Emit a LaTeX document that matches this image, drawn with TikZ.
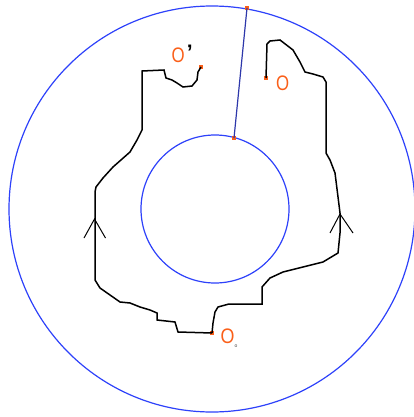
\documentclass[tikz,border=0pt]{standalone}
\usepackage{fontspec}
\setmainfont{Liberation Sans}
\definecolor{ptorange}{RGB}{250,95,25}
\definecolor{cblue}{RGB}{45,65,250}
\definecolor{lblue}{RGB}{45,55,170}
\begin{document}
\begin{tikzpicture}[x=1pt,y=-1pt,
  dot/.style={rectangle,fill=ptorange,inner sep=0pt,minimum size=4.5pt},
  circ/.style={draw=cblue,line width=1.2pt},
  trail/.style={draw=black,line width=1.5pt,line join=miter},
  vtip/.style={draw=black,line width=1pt},
  lbl/.style={text=ptorange,font=\fontsize{21}{21}\selectfont,inner sep=0pt,anchor=west}]
\useasboundingbox (0,0) rectangle (414,417);
\coordinate (oc) at (212,209);
\coordinate (ic) at (215,209);
\draw[circ] (oc) circle[radius=203];
\draw[circ] (ic) circle[radius=74];
% radial segment
\node[dot,minimum size=4pt] (rt) at (247,8) {};
\node[dot,minimum size=4pt] (rb) at (234,138) {};
\draw[lblue,line width=1.2pt] (rt.center) -- (rb.center);
% points
\node[dot] (oprime) at (201,67) {};
\node[dot] (o) at (266,78) {};
\node[dot] (o0) at (212,333) {};
% path
\draw[trail] (oprime.center) -- (198,72) -- (197,80) -- (192,86) -- (183,87) -- (177,83) -- (172,80) -- (166,78) -- (164,70) -- (142,71) -- (142,130) -- (137,140) -- (130,152) -- (113,167) -- (103,178) -- (96,187) -- (95,192) -- (95,280) -- (100,288) -- (110,295) -- (120,302) -- (130,303) -- (140,307) -- (150,310) -- (157,313) -- (157,320) -- (175,322) -- (178,332) -- (o0.center);
\draw[trail] (o0.center) -- (213,323) -- (215,312) -- (218,307) -- (229,304) -- (262,304) -- (262,287) -- (270,278) -- (283,272) -- (303,267) -- (323,262) -- (338,253) -- (340,233) -- (340,213) -- (338,197) -- (335,173) -- (330,160) -- (326,153) -- (326,82) -- (323,77) -- (313,74) -- (305,72) -- (300,62) -- (293,50) -- (280,40) -- (270,41) -- (267,44) -- (o.center);
% arrowheads
\draw[vtip] (84,238) -- (94.5,219) -- (105.5,238);
\draw[vtip] (330,233) -- (340,214) -- (353,233);
% labels
\node[lbl] (lop) at (171.5,54) {\scalebox{0.8}[1]{O}\hspace{2pt}\raisebox{3pt}{\color{black}\bfseries '}};
\node[lbl] (lo) at (276,83) {\scalebox{0.8}[1]{O}};
\node[lbl] (lo0) at (220.5,338) {\scalebox{0.85}[1]{O}\raisebox{-4.5pt}{\color{black!70}\fontsize{5}{5}\selectfont o}};
\end{tikzpicture}
\end{document}
